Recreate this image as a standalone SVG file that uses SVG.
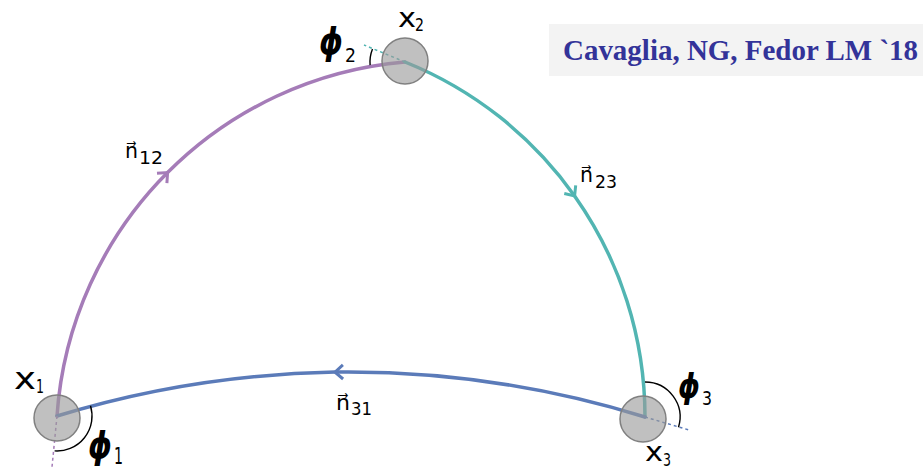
<svg xmlns="http://www.w3.org/2000/svg" width="923" height="469" viewBox="0 0 923 469">
<style>
.arc{fill:none;stroke-width:3.5;stroke-linecap:round}
.dash{fill:none;stroke-width:1.5;stroke-dasharray:3,3}
.ang{fill:none;stroke:#000;stroke-width:1.4}
.node{fill:#9a9a9a;fill-opacity:0.62;stroke:#808080;stroke-width:1.5}
.lbl{font-family:"DejaVu Sans",sans-serif;fill:#000}
.phi{font-family:"DejaVu Sans",sans-serif;font-weight:bold;font-style:italic;fill:#000}
</style>
<defs>
<marker id="mp" markerUnits="userSpaceOnUse" markerWidth="20" markerHeight="20" refX="0" refY="0" viewBox="-12 -10 14 20" orient="auto"><path d="M-8,-7 L0,0 L-8,7" fill="none" stroke="#a57cb8" stroke-width="3"/></marker>
<marker id="mt" markerUnits="userSpaceOnUse" markerWidth="20" markerHeight="20" refX="0" refY="0" viewBox="-12 -10 14 20" orient="auto"><path d="M-8,-7 L0,0 L-8,7" fill="none" stroke="#52b5b2" stroke-width="3"/></marker>
<marker id="mb" markerUnits="userSpaceOnUse" markerWidth="20" markerHeight="20" refX="0" refY="0" viewBox="-12 -10 14 20" orient="auto"><path d="M-8,-7 L0,0 L-8,7" fill="none" stroke="#5b7bb9" stroke-width="3"/></marker>
</defs>
<rect x="549" y="24" width="374" height="52" fill="#f3f3f3"/>
<text x="563" y="60" font-family="Liberation Serif,serif" font-weight="bold" font-size="29" fill="#333399" textLength="355" lengthAdjust="spacingAndGlyphs">Cavaglia, NG, Fedor LM `18</text>
<g id="connectors">
<path class="arc" stroke="#a57cb8" marker-mid="url(#mp)" d="M57,416 A381,381 0 0,1 167.6,172.6 A381,381 0 0,1 405,62"/>
<path class="arc" stroke="#52b5b2" marker-mid="url(#mt)" d="M405,62 A383,383 0 0,1 574.6,195.9 A383,383 0 0,1 645,417"/>
<path class="arc" stroke="#5b7bb9" stroke-width="4" marker-mid="url(#mb)" d="M645,417 A1004,1004 0 0,0 335,372.1 A1004,1004 0 0,0 57,416"/>
<path class="dash" stroke="#a57cb8" d="M57,416 L52,467"/>
<path class="dash" stroke="#52b5b2" d="M405,62 L364,45"/>
<path class="dash" stroke="#5b7bb9" d="M645,417 L689,430"/>
</g>
<g id="node-x1">
<circle class="node" cx="57" cy="418" r="23"/>
<path class="ang" d="M90.5,405.7 A35,35 0 0,1 54.6,450.9"/>
<text class="lbl" x="14" y="389" font-size="31" textLength="22" lengthAdjust="spacingAndGlyphs">x</text>
<text class="lbl" x="36" y="393" font-size="19" textLength="8" lengthAdjust="spacingAndGlyphs">1</text>
<text class="phi" x="88" y="458" font-size="38" textLength="24" lengthAdjust="spacingAndGlyphs">ϕ</text>
<text class="lbl" x="114" y="464" font-size="23" textLength="9" lengthAdjust="spacingAndGlyphs">1</text>
</g>
<g id="node-x2">
<circle class="node" cx="405" cy="61" r="23"/>
<path class="ang" d="M370.1,65.1 A35,35 0 0,1 372.5,48.9"/>
<text class="lbl" x="398" y="27" font-size="26" textLength="18" lengthAdjust="spacingAndGlyphs">x</text>
<text class="lbl" x="415" y="31" font-size="17" textLength="9" lengthAdjust="spacingAndGlyphs">2</text>
<text class="phi" x="319" y="54" font-size="38" textLength="24" lengthAdjust="spacingAndGlyphs">ϕ</text>
<text class="lbl" x="345" y="62" font-size="19" textLength="11" lengthAdjust="spacingAndGlyphs">2</text>
</g>
<g id="node-x3">
<circle class="node" cx="643" cy="419" r="23"/>
<path class="ang" d="M645,382 A35,35 0 0,1 678.5,427.2"/>
<text class="lbl" x="645" y="461" font-size="26" textLength="18" lengthAdjust="spacingAndGlyphs">x</text>
<text class="lbl" x="663" y="466" font-size="17" textLength="8" lengthAdjust="spacingAndGlyphs">3</text>
<text class="phi" x="678" y="398" font-size="34" textLength="22" lengthAdjust="spacingAndGlyphs">ϕ</text>
<text class="lbl" x="702" y="405" font-size="20" textLength="10" lengthAdjust="spacingAndGlyphs">3</text>
</g>
<g id="labels">
<text class="lbl" x="125" y="158" font-size="22" textLength="13" lengthAdjust="spacingAndGlyphs">n⃗</text>
<text class="lbl" x="139" y="164" font-size="17" textLength="24" lengthAdjust="spacingAndGlyphs">12</text>
<text class="lbl" x="580" y="182" font-size="22" textLength="13" lengthAdjust="spacingAndGlyphs">n⃗</text>
<text class="lbl" x="595" y="188" font-size="17" textLength="22" lengthAdjust="spacingAndGlyphs">23</text>
<text class="lbl" x="336" y="410" font-size="22" textLength="14" lengthAdjust="spacingAndGlyphs">n⃗</text>
<text class="lbl" x="351" y="415" font-size="17" textLength="21" lengthAdjust="spacingAndGlyphs">31</text>
</g>
</svg>
